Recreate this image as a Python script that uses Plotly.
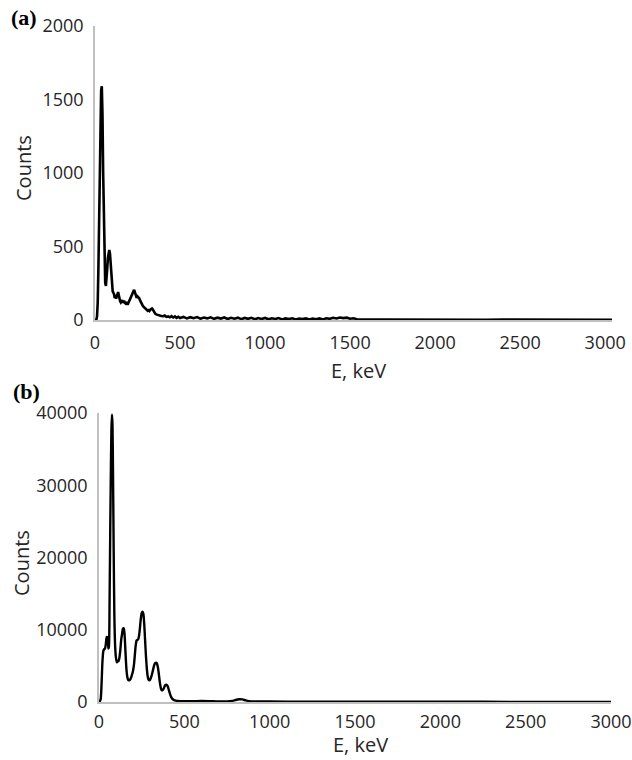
import plotly.graph_objects as go

# ---- Panel (a) data: energy (keV) and counts ----
energy_a = [0, 8, 12, 16, 20, 24, 28, 32, 36, 40,
            44, 48, 52, 56, 60, 64, 68, 72, 76, 80,
            84, 88, 92, 96, 100, 104, 108, 112, 116, 120,
            124, 128, 132, 136, 140, 144, 148, 152, 156, 160,
            164, 168, 172, 176, 180, 184, 188, 192, 196, 200,
            205, 210, 215, 220, 225, 230, 235, 240, 245, 250,
            255, 260, 265, 270, 275, 280, 285, 290, 295, 300,
            305, 310, 315, 320, 325, 330, 335, 340, 345, 350,
            355, 360, 370, 380, 390, 400, 410, 420, 430, 440,
            450, 460, 470, 480, 490, 500, 520, 540, 560, 580,
            600, 620, 640, 660, 680, 700, 720, 740, 760, 780,
            800, 820, 840, 860, 880, 900, 920, 940, 960, 980,
            1000, 1020, 1040, 1060, 1080, 1100, 1120, 1140, 1160, 1180,
            1200, 1220, 1240, 1260, 1280, 1300, 1320, 1340, 1360, 1380,
            1400, 1420, 1440, 1460, 1480, 1500, 1520, 1540, 1560, 1600,
            1700, 1800, 1900, 2000, 2100, 2200, 2300, 2400, 2500, 2550,
            2600, 2650, 2700, 2800, 2900, 3000, 3040]
counts_a = [0, 2, 25, 120, 350, 700, 1080, 1400, 1560, 1590,
            1400, 1000, 620, 360, 255, 232, 270, 350, 425, 468,
            476, 452, 375, 275, 215, 195, 185, 175, 150, 170,
            145, 160, 185, 190, 168, 140, 128, 120, 127, 135,
            118, 128, 130, 116, 112, 121, 107, 104, 115, 126,
            142, 150, 166, 182, 196, 205, 188, 168, 150, 160,
            156, 148, 133, 118, 104, 99, 91, 86, 79, 74,
            67, 63, 67, 61, 70, 75, 78, 71, 58, 49,
            42, 38, 33, 30, 27, 26, 31, 21, 24, 18,
            26, 17, 24, 14, 22, 13, 21, 11, 19, 12,
            20, 9, 17, 11, 18, 8, 16, 10, 17, 7,
            15, 9, 16, 6, 14, 8, 15, 5, 13, 7,
            14, 5, 12, 7, 13, 4, 11, 6, 12, 4,
            10, 6, 11, 3, 10, 5, 11, 4, 12, 8,
            15, 10, 17, 13, 16, 9, 12, 5, 4, 3,
            3, 2, 3, 2, 3, 2, 2, 3, 3, 4,
            3, 4, 3, 2, 2, 2, 2]

# ---- Panel (b) data: energy (keV) and counts ----
energy_b = [0, 5, 10, 15, 20, 25, 30, 35, 40, 45,
            50, 55, 58, 62, 66, 70, 73, 76, 79, 82,
            86, 90, 95, 100, 105, 110, 115, 120, 125, 130,
            135, 140, 145, 150, 155, 160, 165, 170, 175, 180,
            185, 190, 195, 200, 205, 210, 215, 220, 225, 230,
            235, 240, 245, 250, 255, 260, 265, 270, 275, 280,
            285, 290, 295, 300, 305, 310, 315, 320, 325, 330,
            335, 340, 345, 350, 355, 360, 365, 370, 375, 380,
            385, 390, 395, 400, 405, 410, 415, 420, 425, 430,
            440, 450, 460, 480, 500, 550, 600, 650, 700, 750,
            780, 800, 820, 840, 860, 880, 900, 1000, 1200, 1500,
            2000, 2500, 3000]
counts_b = [0, 100, 400, 2500, 5500, 7000, 7300, 7400, 8000, 9000,
            8900, 7400, 7600, 14000, 24000, 33000, 38000, 39800, 38500, 32000,
            21000, 12000, 7500, 6000, 5500, 5600, 5700, 6200, 7200, 8600,
            9400, 10150, 10200, 9300, 7000, 4800, 3600, 3100, 3000, 3050,
            3200, 3500, 3900, 4400, 5200, 6500, 7800, 8500, 8600, 8700,
            9200, 10300, 11500, 12300, 12500, 12200, 10800, 8600, 6400, 4700,
            3600, 3100, 3000, 3100, 3400, 3800, 4300, 4800, 5200, 5400,
            5450, 5300, 4800, 4000, 3000, 2200, 1700, 1600, 1700, 1900,
            2200, 2350, 2400, 2300, 2000, 1600, 1200, 850, 600, 420,
            260, 180, 140, 110, 100, 100, 150, 120, 80, 90,
            150, 280, 380, 360, 220, 120, 80, 60, 50, 40,
            30, 20, 15]

x_ticks = [0, 500, 1000, 1500, 2000, 2500, 3000]
y_ticks_a = [0, 500, 1000, 1500, 2000]
y_ticks_b = [0, 10000, 20000, 30000, 40000]

W, H = 632, 760
FONT = "Open Sans"
TXT = "#262626"

fig = go.Figure()
fig.add_trace(go.Scatter(x=energy_a, y=counts_a, mode="lines",
                         line=dict(color="black", width=2.6), xaxis="x", yaxis="y",
                         showlegend=False))
fig.add_trace(go.Scatter(x=energy_b, y=counts_b, mode="lines",
                         line=dict(color="black", width=2.4, shape="spline", smoothing=0.6),
                         xaxis="x2", yaxis="y2", showlegend=False))

axis_common = dict(showgrid=False, zeroline=False, ticks="", automargin=False,
                   showline=True, linecolor="#bfbfbf", linewidth=1.5,
                   tickformat="d",
                   tickfont=dict(family=FONT, size=18, color=TXT))

fig.update_layout(
    template="none",
    width=W, height=H,
    margin=dict(l=0, r=0, t=0, b=0, pad=0),
    plot_bgcolor="white", paper_bgcolor="white",
    xaxis=dict(domain=[95 / W, 612 / W], range=[0, 3040], tickvals=x_ticks,
               anchor="y", ticklabelstandoff=6, **axis_common),
    yaxis=dict(domain=[1 - 320 / H, 1 - 26 / H], range=[0, 2000], tickvals=y_ticks_a,
               anchor="x", ticklabelstandoff=6, **axis_common),
    xaxis2=dict(domain=[99 / W, 611 / W], range=[0, 3000], tickvals=x_ticks,
                anchor="y2", ticklabelstandoff=3, **axis_common),
    yaxis2=dict(domain=[1 - 702 / H, 1 - 413 / H], range=[0, 40000], tickvals=y_ticks_b,
                anchor="x2", ticklabelstandoff=6, **axis_common),
)

def ann(text, x, y, size, family=FONT, angle=0, bold=False, color=TXT):
    fig.add_annotation(text=f"<b>{text}</b>" if bold else text,
                       x=x / W, y=1 - y / H, xref="paper", yref="paper",
                       showarrow=False, textangle=angle, borderpad=0,
                       font=dict(family=family, size=size, color=color),
                       xanchor="center", yanchor="middle")

ann("(a)", 24, 18, 22, family="Liberation Serif", bold=True, color="black")
ann("(b)", 26, 391, 22, family="Liberation Serif", bold=True, color="black")
ann("Counts", 23, 168, 20, angle=-90)
ann("Counts", 21, 563, 20, angle=-90)
ann("E, keV", 358, 370, 20)
ann("E, keV", 360, 744, 20)

fig.write_html("out.html", config={"displayModeBar": False},
               post_script="document.body.style.margin='0';")
